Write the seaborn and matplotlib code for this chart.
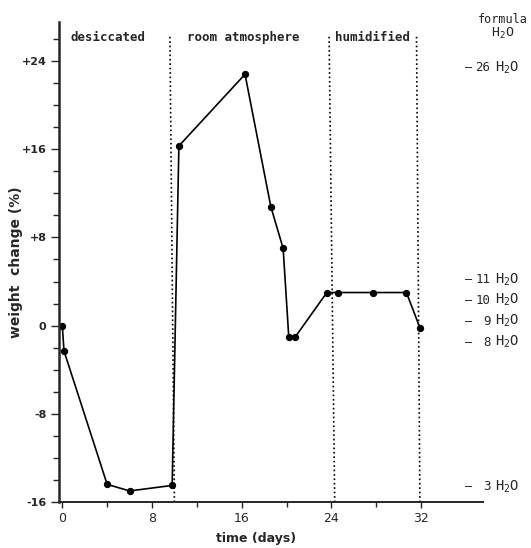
"""
Weight change of crystals over time under three atmospheres.
"""
import matplotlib
matplotlib.use('Agg')
import matplotlib.pyplot as plt
import pandas as pd
import seaborn as sns

DAYS = [0.0, 0.15, 4.0, 6.0, 9.8, 10.4, 16.3, 18.6, 19.7, 20.2, 20.8, 23.6, 24.6, 27.7, 30.7, 31.9]
WEIGHT = [0.0, -2.3, -14.4, -15.0, -14.5, 16.3, 22.8, 10.8, 7.0, -1.0, -1.0, 3.0, 3.0, 3.0, 3.0, -0.2]

# phase boundaries (top x, bottom x) and phase names
BOUND_TOP = [9.6, 23.8, 31.6]
BOUND_BOTTOM = [10.0, 24.3, 31.9]
PHASES = ['desiccated', 'room atmosphere', 'humidified']
PHASE_X = [4.1, 16.1, 27.7]

# hydrate levels marked on the right
HYDRATE_N = ['26', '11', '10', '9', '8', '3']
HYDRATE_Y = [23.4, 4.2, 2.3, 0.4, -1.5, -14.6]

DATA = pd.DataFrame({'day': DAYS, 'weight': WEIGHT})

sns.set_style('ticks')
plt.rcParams['mathtext.fontset'] = 'custom'
plt.rcParams['mathtext.rm'] = 'DejaVu Sans Mono'

fig = plt.figure(figsize=(5.31, 5.48), dpi=100)
ax = fig.add_axes([0.111, 0.084, 0.798, 0.875])

sns.lineplot(data=DATA, x='day', y='weight', sort=False, estimator=None,
             color='black', lw=1.2, marker='o', markersize=4.5,
             markeredgecolor='black', ax=ax)

for xt, xb in zip(BOUND_TOP, BOUND_BOTTOM):
    ax.plot([xt, xb], [26.2, -16], ls=':', color='black', lw=1.2)

mono = 'DejaVu Sans Mono'
for name, px in zip(PHASES, PHASE_X):
    ax.text(px, 26.1, name, ha='center', va='center', family=mono,
            fontsize=9, fontweight='bold')

ax.text(39.3, 27.8, 'formula', ha='center', va='center', family=mono,
        fontsize=8.5, clip_on=False)
ax.text(39.3, 26.5, 'H$_2$O', ha='center', va='center', family=mono,
        fontsize=9.5, clip_on=False)
for n, yv in zip(HYDRATE_N, HYDRATE_Y):
    ax.text(36.2, yv, '\u2013', ha='center', va='center', family=mono,
            fontsize=8.5, clip_on=False)
    ax.text(38.2, yv, n, ha='right', va='center', family=mono,
            fontsize=9, clip_on=False)
    ax.text(38.6, yv, 'H$_2$O', ha='left', va='center', family=mono,
            fontsize=10, clip_on=False)

ax.set_xlim(-0.3, 37.5)
ax.set_ylim(-16, 27.5)
ax.set_xticks([0, 8, 16, 24, 32])
ax.set_xticks([4, 12, 20, 28], minor=True)
ax.set_yticks([-16, -8, 0, 8, 16, 24])
ax.set_yticks(range(-14, 27, 2), minor=True)
ax.set_yticklabels(['-16', '-8', '0', '+8', '+16', '+24'], fontweight='bold')
ax.tick_params(axis='y', which='major', length=6, width=1, labelsize=8, pad=3)
ax.tick_params(axis='y', which='minor', length=4, width=1)
ax.tick_params(axis='x', which='major', length=4, width=1, labelsize=9)
ax.tick_params(axis='x', which='minor', length=3.5, width=1)

sns.despine(ax=ax)
ax.spines['left'].set_linewidth(1.8)
ax.spines['bottom'].set_linewidth(1.4)

ax.set_xlabel('time (days)', fontweight='bold', fontsize=9)
ax.set_ylabel('weight  change (%)', fontweight='bold', fontsize=10)
ax.xaxis.set_label_coords(0.465, -0.062)
ax.yaxis.set_label_coords(-0.085, 0.5)

fig.savefig('out.png', dpi=100)
